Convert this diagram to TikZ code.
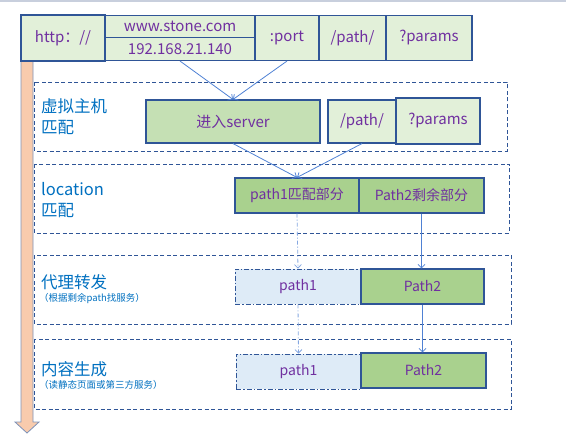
\documentclass[tikz,border=0pt]{standalone}
\usepackage{fontspec}
\newfontfamily\cjk{Noto Sans CJK SC}
\usetikzlibrary{arrows.meta}
\definecolor{edgeblue}{HTML}{2F5597}
\definecolor{palegreen}{HTML}{E2F0D9}
\definecolor{midgreen}{HTML}{C5E0B4}
\definecolor{deepgreen}{HTML}{A9D18E}
\definecolor{paleblue}{HTML}{DEEBF7}
\definecolor{txtpurple}{HTML}{7030A0}
\definecolor{txtblue}{HTML}{0070C0}
\definecolor{linkblue}{HTML}{4F81D4}
\definecolor{peach}{HTML}{F8CBAD}
\definecolor{shaftgray}{HTML}{7F93B8}
\definecolor{topbar}{HTML}{C8CFDD}

\begin{document}
\begin{tikzpicture}[x=1pt, y=-1pt, >={Straight Barb[length=3.5pt,width=7pt]},
  seg/.style={draw=edgeblue, line width=1.1pt, fill=palegreen, text=txtpurple, inner sep=0pt, font=\cjk\fontsize{15}{18}\selectfont},
  part/.style={seg, minimum height=35pt, fill=deepgreen, font=\cjk\fontsize{14}{17}\selectfont},
  rest/.style={part, fill=paleblue, line width=0.8pt, dash pattern=on 5pt off 2pt on 1.5pt off 2pt},
  frame/.style={draw=edgeblue, line width=0.9pt, dash pattern=on 4pt off 2.5pt},
  stage/.style={anchor=west, inner sep=0pt, text=txtblue, align=left, font=\cjk\fontsize{16.5}{21}\selectfont},
  hint/.style={anchor=west, inner sep=0pt, text=txtblue, font=\cjk\fontsize{9.5}{11}\selectfont},
  flow/.style={->, draw=linkblue, line width=0.8pt},
  skip/.style={flow, draw=linkblue!70, dash pattern=on 4pt off 2pt on 1pt off 2pt}]
\useasboundingbox (0,0) rectangle (566,441);
\fill[topbar] (0,0) rectangle (566,2.5);
\draw[fill=peach, draw=shaftgray, line width=0.8pt] (21,58) -- (33,58) -- (33,422) -- (39,422) -- (27,433) -- (15,422) -- (21,422) -- cycle;
\draw[frame] (34,82) rectangle (507,151);
\draw[frame] (34,164) rectangle (509,233);
\draw[frame] (34,255) rectangle (511,324);
\draw[frame] (34,339) rectangle (511,409);
\node[seg, minimum width=84pt, minimum height=46pt] (scheme) at (63,38) {http：//};
\node[seg, minimum width=150pt, minimum height=22pt] (host) at (180,26.5) {www.stone.com};
\node[seg, minimum width=150pt, minimum height=23pt] (ip) at (180,49) {192.168.21.140};
\node[seg, minimum width=64pt, minimum height=45pt] (port) at (287,38) {:port};
\node[seg, minimum width=67pt, minimum height=45pt] (path) at (352.5,38) {/path/};
\node[seg, minimum width=86pt, minimum height=45pt] (params) at (429,38) {?params};
\node[stage] (vhost) at (41,117) {虚拟主机\\匹配};
\node[seg, fill=midgreen, minimum width=174pt, minimum height=43pt] (server) at (233,121.5) {进入server};
\node[seg, minimum width=68pt, minimum height=43pt] (vpath) at (362,121.5) {/path/};
\node[seg, minimum width=84pt, minimum height=46pt] (vparams) at (438,121) {?params};
\node[stage] (loc) at (41,200) {location\\匹配};
\node[part, minimum width=124pt] (match) at (297,195.5) {path1匹配部分};
\node[part, minimum width=125pt] (remain) at (421.5,195.5) {Path2剩余部分};
\node[stage] (proxy) at (41,282) {代理转发};
\node[hint] (proxyhint) at (39,299) {（根据剩余path找服务）};
\node[rest, minimum width=126pt] (pxone) at (298,286.5) {path1};
\node[part, minimum width=123pt] (pxtwo) at (422.5,286.5) {Path2};
\node[stage] (gen) at (41,369) {内容生成};
\node[hint] (genhint) at (39,385) {（读静态页面或第三方服务）};
\node[rest, minimum width=125pt] (gnone) at (298.5,371.5) {path1};
\node[part, minimum width=125pt] (gntwo) at (423.5,370.5) {Path2};
\draw[flow] (ip.south) -- (server.north);
\draw[flow] (port.south) -- (server.north);
\draw[flow] (server.south) -- (match.north);
\draw[flow] (vpath.south) -- (match.north);
\draw[skip] (match.south) -- (pxone.north);
\draw[flow] (remain.south) -- (remain.south |- pxtwo.north);
\draw[skip] (pxone.south) -- (gnone.north);
\draw[flow] (pxtwo.south) -- (pxtwo.south |- gntwo.north);
\end{tikzpicture}
\end{document}
